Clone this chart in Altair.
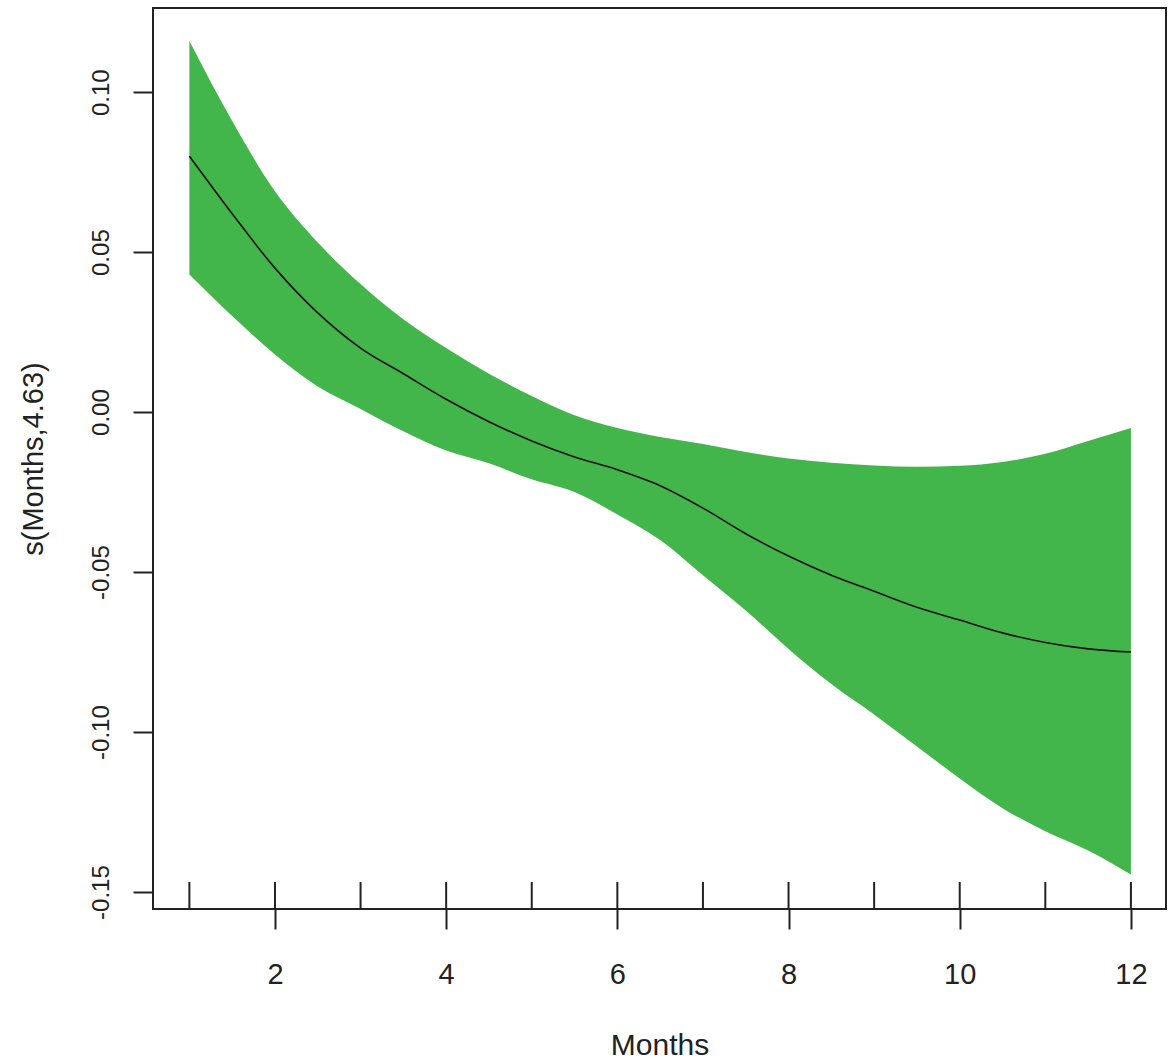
import altair as alt
import pandas as pd

# ---- data ----
months = [1.0, 1.5, 2.0, 2.5, 3.0, 3.5, 4.0, 4.5, 5.0, 5.5, 6.0, 6.5,
          7.0, 7.5, 8.0, 8.5, 9.0, 9.5, 10.0, 10.5, 11.0, 11.5, 12.0]
fit = [0.080, 0.062, 0.045, 0.031, 0.020, 0.012, 0.004, -0.003, -0.009, -0.014,
       -0.018, -0.023, -0.030, -0.038, -0.045, -0.051, -0.056, -0.061, -0.065,
       -0.069, -0.072, -0.074, -0.075]
upper = [0.116, 0.091, 0.069, 0.053, 0.040, 0.029, 0.020, 0.012, 0.005, -0.001,
         -0.005, -0.0078, -0.010, -0.0125, -0.0145, -0.0158, -0.0167, -0.0171,
         -0.0168, -0.0156, -0.013, -0.009, -0.005]
lower = [0.043, 0.030, 0.018, 0.008, 0.001, -0.006, -0.012, -0.016, -0.021,
         -0.025, -0.032, -0.040, -0.051, -0.062, -0.074, -0.085, -0.0945, -0.1045,
         -0.1145, -0.1238, -0.131, -0.137, -0.1445]
rug_months = [1, 2, 3, 4, 5, 6, 7, 8, 9, 10, 11, 12]
x_ticks = [2, 4, 6, 8, 10, 12]
y_ticks = [-0.15, -0.10, -0.05, 0.00, 0.05, 0.10]

df = pd.DataFrame({"Months": months, "fit": fit, "upper": upper, "lower": lower})
rug = pd.DataFrame({"Months": rug_months})

FONT = "Liberation Sans"
INK = "#222222"
W, H = 1013, 901

xscale = alt.Scale(domain=[0.575, 12.41], nice=False, zero=False)
yscale = alt.Scale(domain=[-0.1553, 0.1263], nice=False, zero=False)

xaxis = alt.Axis(
    values=x_ticks, title="Months", grid=False, domain=False,
    tickSize=20, tickWidth=2, tickColor=INK,
    labelFont=FONT, labelFontSize=29, labelColor=INK, labelPadding=31,
    labelBaseline="top", labelAlign="center", labelFlush=False, labelOverlap=False,
    titleFont=FONT, titleFontSize=30, titleFontWeight="normal", titleColor=INK,
    titleX=W / 2, titleY=121, titleBaseline="top", titleAlign="center",
)
yaxis = alt.Axis(
    values=y_ticks, title="s(Months,4.63)", grid=False, domain=False,
    tickSize=20, tickWidth=2, tickColor=INK,
    labelFont=FONT, labelFontSize=24, labelColor=INK, labelPadding=25,
    labelAngle=270, labelAlign="center", labelBaseline="alphabetic",
    labelFlush=False, labelOverlap=False,
    labelExpr="replace(format(datum.value, '.2f'), '\u2212', '-')",
    titleFont=FONT, titleFontSize=29, titleFontWeight="normal", titleColor=INK,
    titleAngle=270, titleX=-111, titleY=H / 2, titleBaseline="alphabetic",
    titleAlign="center",
)

X = alt.X("Months:Q", scale=xscale, axis=xaxis)

band = alt.Chart(df).mark_area(color="#42b64a", opacity=1, interpolate="monotone").encode(
    x=X,
    y=alt.Y("upper:Q", scale=yscale, axis=yaxis),
    y2="lower:Q",
)
line = alt.Chart(df).mark_line(color="#111111", strokeWidth=1.6, interpolate="monotone").encode(
    x=X,
    y=alt.Y("fit:Q", scale=yscale, axis=yaxis),
)
rugs = alt.Chart(rug).mark_rule(color=INK, strokeWidth=2).encode(
    x=X,
    y=alt.value(H - 27),
    y2=alt.value(H),
)

chart = alt.layer(band, line, rugs).properties(
    width=W, height=H,
    autosize=alt.AutoSizeParams(type="none"),
    padding={"left": 153, "top": 8, "right": 3, "bottom": 155},
    background="white",
).configure_view(stroke=INK, strokeWidth=2)

chart.save("out.html", embed_options={"renderer": "svg", "actions": False})
